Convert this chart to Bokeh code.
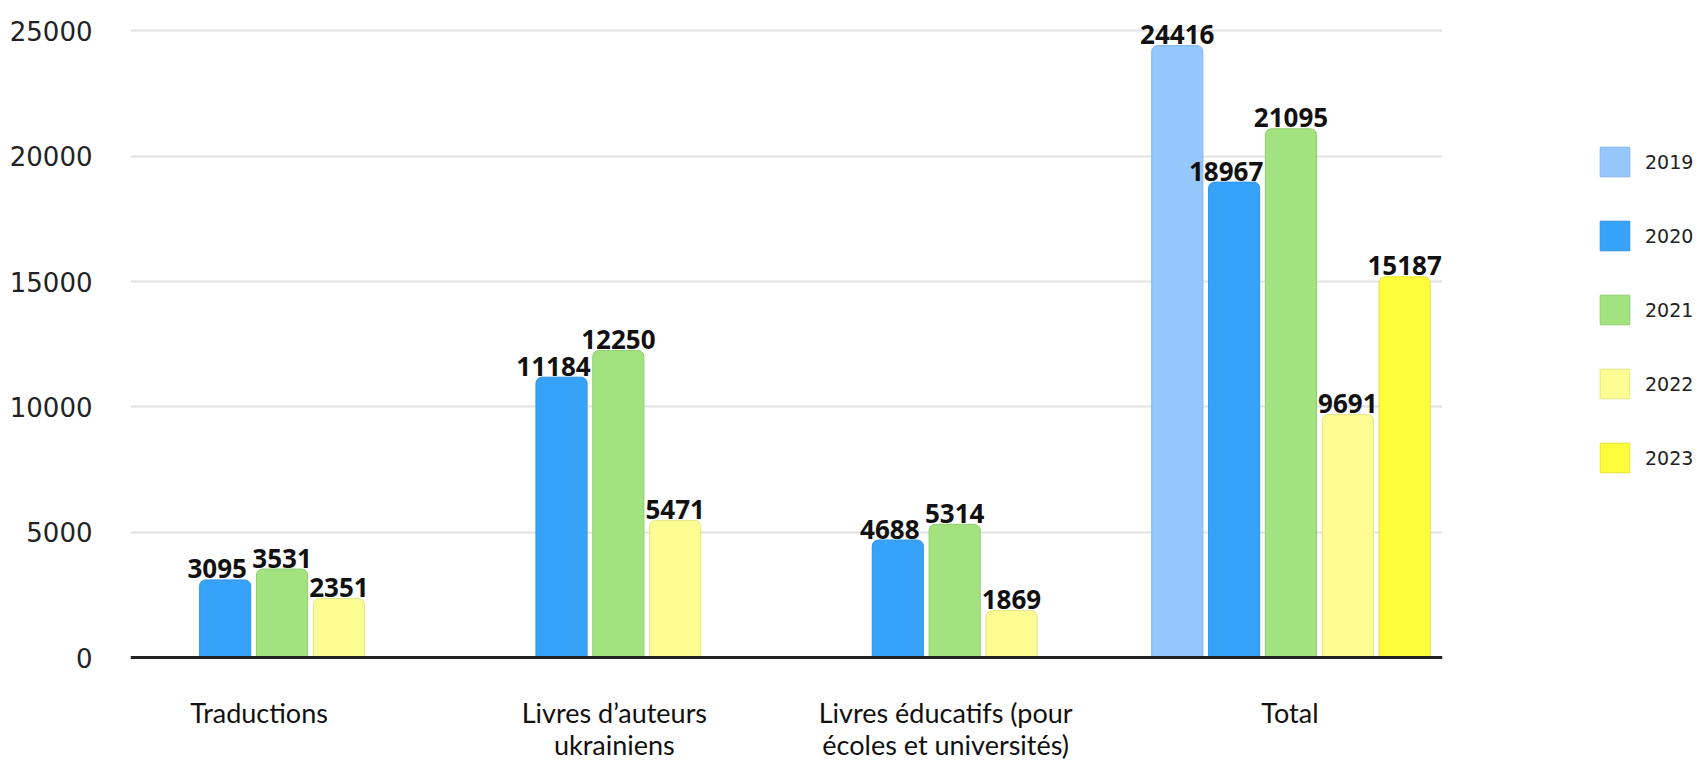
from bokeh.plotting import figure
from bokeh.layouts import row
from bokeh.models import (ColumnDataSource, FactorRange, Range1d, FixedTicker, Span,
                          Legend, LegendItem)
from bokeh.transform import dodge
from bokeh.core.properties import value
from bokeh.embed import file_html
from bokeh.resources import INLINE

# ---------------- data ----------------
categories = ["Traductions", "Livres d\u2019auteurs\nukrainiens",
              "Livres \u00e9ducatifs (pour\n\u00e9coles et universit\u00e9s)", "Total"]
years = ["2019", "2020", "2021", "2022", "2023"]
v2019 = [None, None, None, 24416]
v2020 = [3095, 11184, 4688, 18967]
v2021 = [3531, 12250, 5314, 21095]
v2022 = [2351, 5471, 1869, 9691]
v2023 = [None, None, None, 15187]
series = [v2019, v2020, v2021, v2022, v2023]
colors = ["#94C8FD", "#36A3F9", "#A2E27F", "#FEFD93", "#FDFD3B"]
outline = ["#86b4e3", "#3193e0", "#92cc72", "#e4e384", "#e4e335"]
label_dx = [0, -8, 0, 0, 0]        # small horizontal nudge of the value labels (px)
category_dx = [-23, -4, -9, -1]    # small horizontal nudge of the category labels (px)
y_ticks = [0, 5000, 10000, 15000, 20000, 25000]

# ---------------- main figure ----------------
H = 763
W1 = 1450
p = figure(width=W1, height=H, output_backend="svg", toolbar_location=None,
           x_range=FactorRange(*categories, range_padding=-0.0247),
           y_range=Range1d(-4229, 25894),
           min_border_left=130, min_border_right=W1 - 1442, min_border_top=8,
           min_border_bottom=0)
p.outline_line_color = None
p.background_fill_color = "white"
p.xaxis.visible = False
p.xgrid.grid_line_color = None
p.ygrid.grid_line_color = "#e2e2e2"
p.ygrid.grid_line_width = 2
p.yaxis.ticker = FixedTicker(ticks=y_ticks)
p.ygrid.ticker = FixedTicker(ticks=y_ticks)
p.yaxis.axis_line_color = None
p.yaxis.major_tick_line_color = None
p.yaxis.minor_tick_line_color = None
p.yaxis.major_label_standoff = 32
p.yaxis.major_label_text_font = "DejaVu Sans"
p.yaxis.major_label_text_font_size = "26px"
p.yaxis.major_label_text_color = "#222222"

step = 0.169
width = 0.152
for i, (yr, vals) in enumerate(zip(years, series)):
    cats = [c for c, v in zip(categories, vals) if v is not None]
    vs = [v for v in vals if v is not None]
    src = ColumnDataSource(dict(cat=cats, val=vs, lbl=[str(v) for v in vs]))
    off = (i - 2) * step
    p.vbar(x=dodge("cat", off, range=p.x_range), top="val", width=width, source=src,
           fill_color=colors[i], line_color=outline[i], line_width=1,
           border_radius=(6, 6, 0, 0))
    p.text(x=dodge("cat", off, range=p.x_range), y="val", text="lbl", source=src,
           text_align="center", text_baseline="alphabetic", y_offset=-11,
           x_offset=label_dx[i],
           text_font=value("Noto Sans"), text_font_style="bold",
           text_font_size="26px", text_color="#111111")

# baseline (x axis line at zero)
p.add_layout(Span(location=0, dimension="width", line_color="#222222", line_width=3))

# category labels under the baseline
csrc = ColumnDataSource(dict(cat=categories, base=[0] * len(categories), dx=category_dx))
p.text(x="cat", y="base", text="cat", source=csrc, text_align="center",
       text_baseline="top", y_offset=38, x_offset="dx", text_font=value("Lato"),
       text_font_size="27px", text_color="#111111", text_line_height=0.97,
       level="overlay")

# ---------------- legend panel ----------------
W2 = 1703 - W1
q = figure(width=W2, height=H, output_backend="svg", toolbar_location=None,
           x_axis_type=None, y_axis_type=None,
           min_border_left=0, min_border_right=0, min_border_top=0, min_border_bottom=0,
           x_range=Range1d(0, 1), y_range=Range1d(0, 1))
q.grid.visible = False
q.outline_line_color = None
items = []
for i, yr in enumerate(years):
    hidden = ColumnDataSource(dict(x=[-5], top=[-5]))
    r = q.vbar(x="x", top="top", width=0.1, source=hidden, fill_color=colors[i],
               line_color=outline[i], line_width=1)
    items.append(LegendItem(label=yr, renderers=[r]))
legend = Legend(items=items, location=(146, 287), orientation="vertical",
                glyph_width=37, glyph_height=37, label_height=37, spacing=37,
                padding=0, margin=0, label_standoff=12,
                label_text_font="DejaVu Sans", label_text_font_size="19px",
                label_text_color="#222222",
                border_line_color=None, background_fill_alpha=0)
q.add_layout(legend)

open("out.html", "w").write(file_html(row(p, q, spacing=0), INLINE))
